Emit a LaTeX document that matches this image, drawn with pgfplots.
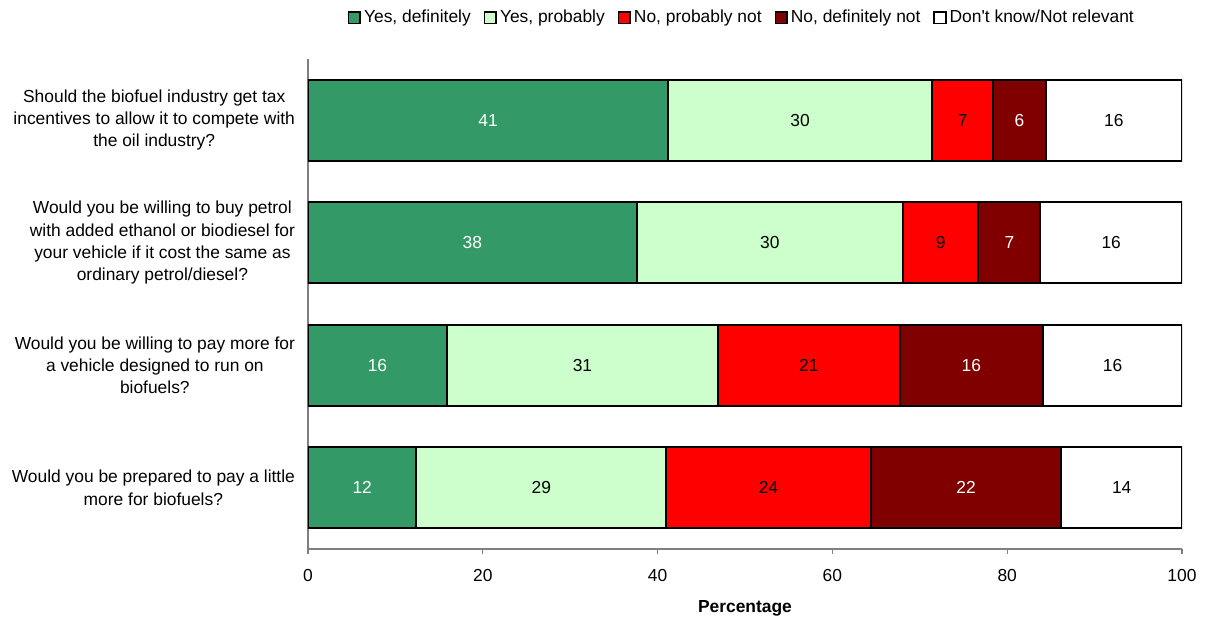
\documentclass[border=0pt]{standalone}
\usepackage{pgfplots}
\pgfplotsset{compat=1.18}
\usepackage{pgfplotstable}
\usepackage{fontspec}
\setmainfont{Liberation Sans}
\definecolor{cA}{HTML}{339966}
\definecolor{cB}{HTML}{CCFFCC}
\definecolor{cC}{HTML}{FF0000}
\definecolor{cD}{HTML}{800000}
\definecolor{cE}{HTML}{FFFFFF}
\definecolor{axgray}{HTML}{808080}

\pgfplotstableread{
y a b c d e la lb lc ld le
4 41.2 30.2 7.0 6.0 15.6 41 30 7 6 16
3 37.6 30.5 8.6 7.1 16.2 38 30 9 7 16
2 15.9 31.0 20.8 16.4 15.9 16 31 21 16 16
1 12.4 28.6 23.4 21.8 13.8 12 29 24 22 14
}\datatable

\begin{document}
\begin{tikzpicture}[font=\fontsize{8.7}{11.1}\selectfont]
\begin{axis}[
  name=ax,
  scale only axis,
  width=437pt, height=245pt,
  xbar stacked,
  bar width=0.66,
  xmin=0, xmax=100, ymin=0.5, ymax=4.5,
  xtick={0,20,40,60,80,100},
  ytick={1,2,3,4},
  yticklabels={
    {Would you be prepared to pay a little\\more for biofuels?},
    {Would you be willing to pay more for\\a vehicle designed to run on\\biofuels?},
    {Would you be willing to buy petrol\\with added ethanol or biodiesel for\\your vehicle if it cost the same as\\ordinary petrol/diesel?},
    {Should the biofuel industry get tax\\incentives to allow it to compete with\\the oil industry?}
  },
  yticklabel style={align=center, xshift=-0.5pt},
  xticklabel style={yshift=-4pt},
  /pgf/number format/assume math mode=true,
  axis x line*=bottom,
  axis y line*=left,
  axis line style={draw=axgray, line width=0.6pt},
  tick align=outside,
  major tick length=2.5pt,
  xtick style={draw=axgray, line width=0.6pt},
  ytick style={draw=none},
  xlabel={\textbf{Percentage}},
  xlabel style={yshift=-2.5pt},
  legend columns=5,
  legend style={draw=none, at={(0.497,1.084)}, anchor=center,
    /tikz/every even column/.append style={column sep=5pt},
    inner sep=0pt,
    nodes={inner sep=1.5pt}},
  legend image code/.code={\draw[#1, line width=0.8pt] (0pt,-2.9pt) rectangle (5.8pt,2.9pt);},
  point meta=explicit symbolic,
  nodes near coords,
  every node near coord/.append style={anchor=center},
]
\addplot[fill=cA, draw=black, line width=1pt,
  every node near coord/.append style={text=white}]
  table[x=a, y=y, meta=la]{\datatable};
\addplot[fill=cB, draw=black, line width=1pt,
  every node near coord/.append style={text=black}]
  table[x=b, y=y, meta=lb]{\datatable};
\addplot[fill=cC, draw=black, line width=1pt,
  every node near coord/.append style={text=black}]
  table[x=c, y=y, meta=lc]{\datatable};
\addplot[fill=cD, draw=black, line width=1pt,
  every node near coord/.append style={text=white}]
  table[x=d, y=y, meta=ld]{\datatable};
\addplot[fill=cE, draw=black, line width=1pt,
  every node near coord/.append style={text=black}]
  table[x=e, y=y, meta=le]{\datatable};
\legend{{Yes, definitely}, {Yes, probably}, {No, probably not}, {No, definitely not}, {Don\textquotesingle t know/Not relevant}}
\end{axis}
\pgfresetboundingbox
\path ([shift={(-154pt,-34pt)}]ax.south west) rectangle ([shift={(14.5pt,29.5pt)}]ax.north east);
\end{tikzpicture}
\end{document}
